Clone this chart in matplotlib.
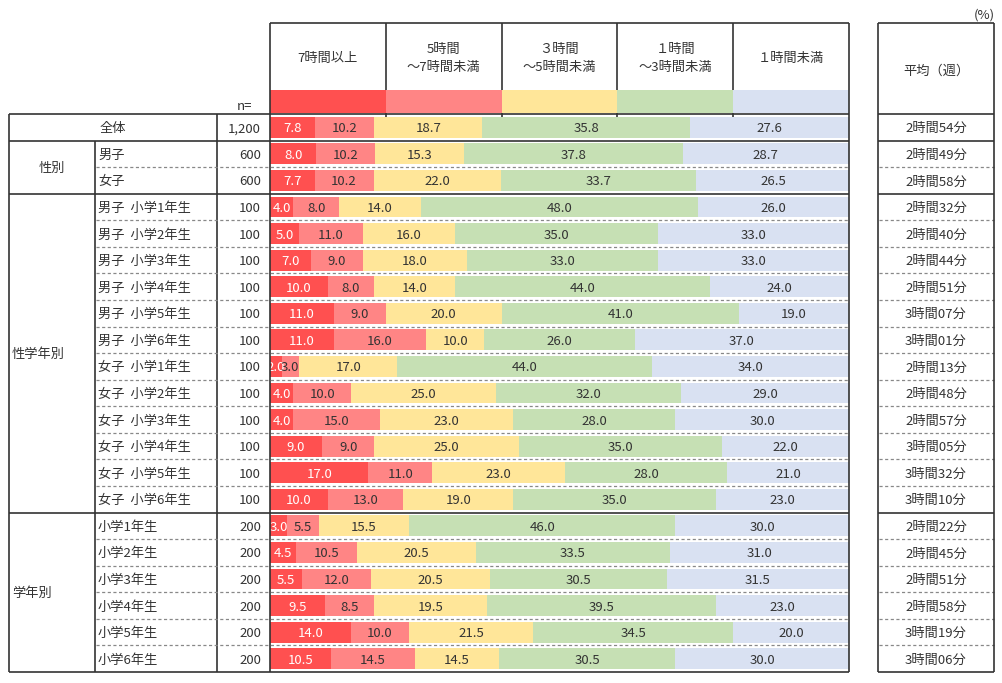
import matplotlib
matplotlib.use('Agg')
import matplotlib.pyplot as plt

plt.rcParams['font.family'] = ['Noto Sans CJK JP', 'DejaVu Sans']

# ---------------- data ----------------
categories = ['7時間以上', '5時間\n～7時間未満', '３時間\n～5時間未満', '１時間\n～3時間未満', '１時間未満']
colors = ['#FF5050', '#FF8585', '#FFE699', '#C6E0B4', '#D9E1F2']

row_labels = ['全体', '男子', '女子',
              '男子 小学1年生', '男子 小学2年生', '男子 小学3年生', '男子 小学4年生',
              '男子 小学5年生', '男子 小学6年生',
              '女子 小学1年生', '女子 小学2年生', '女子 小学3年生', '女子 小学4年生',
              '女子 小学5年生', '女子 小学6年生',
              '小学1年生', '小学2年生', '小学3年生', '小学4年生', '小学5年生', '小学6年生']
n_values = ['1,200', '600', '600'] + ['100'] * 12 + ['200'] * 6

s_7plus = [7.8, 8.0, 7.7, 4.0, 5.0, 7.0, 10.0, 11.0, 11.0, 2.0, 4.0, 4.0, 9.0, 17.0, 10.0,
           3.0, 4.5, 5.5, 9.5, 14.0, 10.5]
s_5to7 = [10.2, 10.2, 10.2, 8.0, 11.0, 9.0, 8.0, 9.0, 16.0, 3.0, 10.0, 15.0, 9.0, 11.0, 13.0,
          5.5, 10.5, 12.0, 8.5, 10.0, 14.5]
s_3to5 = [18.7, 15.3, 22.0, 14.0, 16.0, 18.0, 14.0, 20.0, 10.0, 17.0, 25.0, 23.0, 25.0, 23.0, 19.0,
          15.5, 20.5, 20.5, 19.5, 21.5, 14.5]
s_1to3 = [35.8, 37.8, 33.7, 48.0, 35.0, 33.0, 44.0, 41.0, 26.0, 44.0, 32.0, 28.0, 35.0, 28.0, 35.0,
          46.0, 33.5, 30.5, 39.5, 34.5, 30.5]
s_lt1 = [27.6, 28.7, 26.5, 26.0, 33.0, 33.0, 24.0, 19.0, 37.0, 34.0, 29.0, 30.0, 22.0, 21.0, 23.0,
         30.0, 31.0, 31.5, 23.0, 20.0, 30.0]
averages = ['2時間54分', '2時間49分', '2時間58分',
            '2時間32分', '2時間40分', '2時間44分', '2時間51分', '3時間07分', '3時間01分',
            '2時間13分', '2時間48分', '2時間57分', '3時間05分', '3時間32分', '3時間10分',
            '2時間22分', '2時間45分', '2時間51分', '2時間58分', '3時間19分', '3時間06分']
groups = [('性別', 1, 3), ('性学年別', 3, 15), ('学年別', 15, 21)]

series = [s_7plus, s_5to7, s_3to5, s_1to3, s_lt1]

# ---------------- layout (pixels) ----------------
W, H = 1002, 683
fig = plt.figure(figsize=(W / 100, H / 100), dpi=100)
fig.patch.set_facecolor('white')

X0, XCAT, XN, XB0, XB1 = 9, 95, 217, 270, 849
XA0, XA1 = 878, 994
YTOP, YSW, YH, YBOT = 23, 90, 114, 672
nrows = len(row_labels)
rh = (YBOT - YH) / nrows
def ypx(i):
    return YH + i * rh

FS = 9.5
TC = '#333333'
DY = 1.5  # small downward text offset in px

# bar axes
ax = fig.add_axes([XB0 / W, (H - YBOT) / H, (XB1 - XB0) / W, (YBOT - YH) / H])
ax.set_xlim(0, 100)
ax.set_ylim(nrows, 0)
ax.axis('off')
ypos = [i + 0.5 for i in range(nrows)]
left = [0.0] * nrows
for j, (vals, col) in enumerate(zip(series, colors)):
    ax.barh(ypos, vals, left=left, height=0.78, color=col, edgecolor='none')
    for i, v in enumerate(vals):
        ax.text(left[i] + v / 2, ypos[i] + DY / rh, f'{v:.1f}', ha='center', va='center',
                fontsize=FS, color='white' if j == 0 else TC)
    left = [l + v for l, v in zip(left, vals)]

# header swatches
axh = fig.add_axes([XB0 / W, (H - YH + 1) / H, (XB1 - XB0) / W, (YH - 1 - YSW) / H])
axh.set_xlim(0, len(categories))
axh.set_ylim(0, 1)
axh.axis('off')
axh.bar(range(len(categories)), [1] * len(categories), width=1, align='edge',
        color=colors, edgecolor='none')

# overlay for table lines and texts
ov = fig.add_axes([0, 0, 1, 1])
ov.set_xlim(0, W)
ov.set_ylim(H, 0)
ov.axis('off')
ov.patch.set_alpha(0)

LC = '#333333'
LW = 1.2
def hline(y, x0, x1):
    ov.plot([x0, x1], [y, y], color=LC, lw=LW, solid_capstyle='butt')
def vline(x, y0, y1):
    ov.plot([x, x], [y0, y1], color=LC, lw=LW, solid_capstyle='butt')

# header box
hline(YTOP, XB0, XB1)
vline(XB0, YTOP, YBOT)
vline(XB1, YTOP, YBOT)
colw = (XB1 - XB0) / len(categories)
for k in range(1, len(categories)):
    x = XB0 + k * colw
    vline(x, YTOP, YSW)
    vline(x, YH - 1, YH + 3)
for k, c in enumerate(categories):
    ov.text(XB0 + (k + 0.5) * colw, 57 + DY, c, ha='center', va='center', fontsize=FS,
            color=TC, linespacing=1.6)

# left table
hline(YH, X0, XB1)
hline(YBOT, X0, XB1)
for g, a, b in groups:
    hline(ypx(a), X0, XB1)
vline(X0, YH, YBOT)
vline(XCAT, ypx(1), YBOT)
vline(XN, YH, YBOT)

# dashed inner separators
for g, a, b in groups:
    for i in range(a + 1, b):
        y = ypx(i)
        ov.plot([XCAT + 1, XB1], [y, y], color='#888888', lw=0.9, dashes=(2.5, 2))
        ov.plot([XA0 + 1, XA1], [y, y], color='#888888', lw=0.9, dashes=(2.5, 2))

# avg table
hline(YTOP, XA0, XA1)
hline(YH, XA0, XA1)
hline(YBOT, XA0, XA1)
for g, a, b in groups:
    hline(ypx(a), XA0, XA1)
vline(XA0, YTOP, YBOT)
vline(XA1, YTOP, YBOT)
ov.text((XA0 + XA1) / 2, 70 + DY, '平均（週）', ha='center', va='center', fontsize=FS, color=TC)
ov.text(984, 15, '(%)', ha='center', va='center', fontsize=FS, color=TC)
ov.text(245, 106, 'n=', ha='center', va='center', fontsize=FS, color=TC)

# row texts
for i, (lab, n, avg) in enumerate(zip(row_labels, n_values, averages)):
    yc = ypx(i) + rh / 2 + DY
    if i == 0:
        ov.text((X0 + XN) / 2, yc, lab, ha='center', va='center', fontsize=FS, color=TC)
    else:
        ov.text(XCAT + 3, yc, lab.replace(' ', '  '), ha='left', va='center', fontsize=FS, color=TC)
    ov.text(XN + 44, yc, n, ha='right', va='center', fontsize=FS, color=TC)
    ov.text((XA0 + XA1) / 2, yc, avg, ha='center', va='center', fontsize=FS, color=TC)

for g, a, b in groups:
    yc = (ypx(a) + ypx(b)) / 2 + DY
    if g == '性別':
        ov.text((X0 + XCAT) / 2, yc, g, ha='center', va='center', fontsize=FS, color=TC)
    else:
        ov.text(X0 + 3, yc, g, ha='left', va='center', fontsize=FS, color=TC)

fig.savefig('out.png', dpi=100, facecolor='white')
